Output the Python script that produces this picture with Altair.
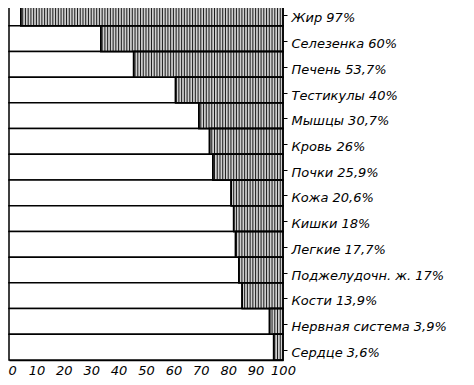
import altair as alt
import pandas as pd

organs = ["Жир", "Селезенка", "Печень", "Тестикулы", "Мышцы", "Кровь", "Почки",
          "Кожа", "Кишки", "Легкие", "Поджелудочн. ж.", "Кости", "Нервная система", "Сердце"]
label_pct = ["97%", "60%", "53,7%", "40%", "30,7%", "26%", "25,9%",
             "20,6%", "18%", "17,7%", "17%", "13,9%", "3,9%", "3,6%"]
# hatched share as drawn in the picture (percent of bar length)
hatched = [95.7, 66.5, 54.5, 39.2, 30.7, 26.8, 25.6, 18.9, 18.0, 17.3, 16.1, 14.9, 4.9, 3.4]
x_ticks = [0, 10, 20, 30, 40, 50, 60, 70, 80, 90, 100]

labels = [f"{o} {p}" for o, p in zip(organs, label_pct)]
df = pd.DataFrame({
    "label": labels,
    "hatched": hatched,
    "rest": [100 - h for h in hatched],
    "full": [100] * len(labels),
    "zero": [0] * len(labels),
})

FONT = "DejaVu Sans"

y_scale = alt.Scale(paddingInner=0, paddingOuter=0)
y_axis = alt.Axis(orient="right", title=None, domain=False, tickSize=4,
                  tickColor="black", tickOffset=2.5, labelOffset=2.5, labelPadding=4,
                  labelFont=FONT, labelFontStyle="italic", labelFontSize=13,
                  labelColor="black")
y_enc = alt.Y("label:N", sort=labels, scale=y_scale, axis=y_axis)
x_scale = alt.Scale(domain=[0, 100], nice=False)
x_axis = alt.Axis(values=x_ticks, title=None, grid=False, tickSize=0, labelPadding=4,
                  domainColor="black", domainWidth=1.5, labelFont=FONT,
                  labelFontStyle="italic", labelFontSize=13, labelColor="black",
                  labelFlush=False,
                  labelAlign={"expr": "datum.value == 0 ? 'left' : 'center'"},
                  labelOffset={"expr": "datum.value == 0 ? -1 : 0"})

base = alt.Chart(df)

white = base.mark_bar(fill="white", stroke="black", strokeWidth=1.5).encode(
    x=alt.X("zero:Q", scale=x_scale, axis=x_axis),
    x2="rest:Q",
    y=y_enc,
)
hatch_bg = base.mark_bar(fill="#d0d0d0", stroke="black", strokeWidth=1.5).encode(
    x=alt.X("rest:Q", scale=x_scale, axis=x_axis),
    x2="full:Q",
    y=y_enc,
)
# vertical hatching inside the hatched part of each bar
hatch_lines = base.transform_calculate(
    xs="sequence(ceil(datum.rest), 100, 1)"
).transform_flatten(["xs"]).mark_tick(
    color="#111111", thickness=1, size=25, opacity=0.95
).encode(
    x=alt.X("xs:Q", scale=x_scale, axis=x_axis),
    y=alt.Y("label:N", sort=labels, scale=y_scale, axis=y_axis),
)
edge = base.mark_bar(fill=None, stroke="black", strokeWidth=1.5).encode(
    x=alt.X("rest:Q", scale=x_scale, axis=x_axis),
    x2="full:Q",
    y=y_enc,
)

chart = alt.layer(white, hatch_bg, hatch_lines, edge).properties(
    width=274, height=360,
    autosize=alt.AutoSizeParams(type="none"),
    padding={"left": 1, "top": -8, "right": 180, "bottom": 25},
).configure_view(stroke=None).configure(background="white")

chart.save("out.html", embed_options={"renderer": "svg", "actions": False})
